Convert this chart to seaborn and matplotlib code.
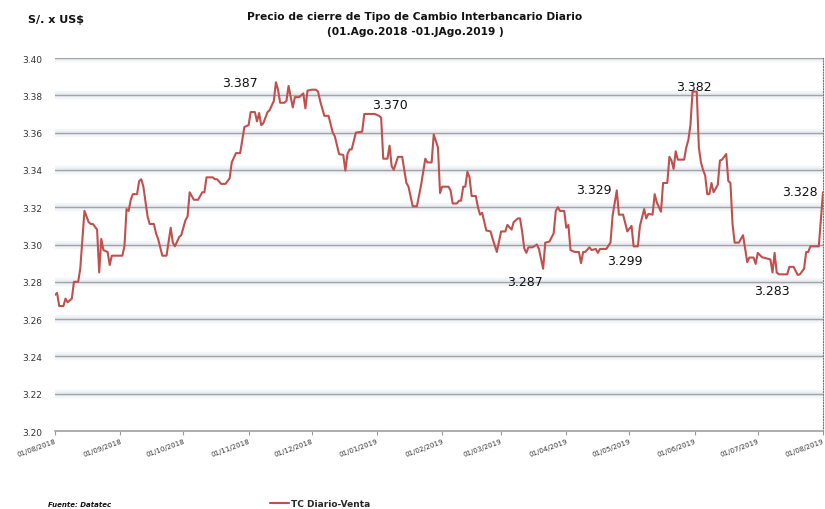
import numpy as np
import pandas as pd
import matplotlib
matplotlib.use("Agg")
import matplotlib.pyplot as plt
import matplotlib.dates as mdates
import seaborn as sns

# ---- data ----
start_date = "2018-08-01"
day_offsets = [0, 1, 2, 4, 5, 6, 7, 8, 9, 11, 12, 14, 16, 17, 18, 20, 21, 22, 23, 25,
               26, 27, 32, 33, 34, 35, 36, 37, 39, 40, 41, 42, 44, 45, 47, 48, 49, 51, 53, 55,
               56, 57, 59, 60, 62, 63, 64, 66, 68, 70, 71, 72, 75, 76, 77, 79, 81, 83, 84, 86,
               88, 90, 92, 93, 95, 96, 97, 98, 99, 101, 102, 104, 105, 106, 107, 109, 110, 111, 113, 114,
               116, 117, 118, 119, 120, 122, 124, 125, 126, 128, 130, 132, 133, 135, 137, 138, 139, 140, 141, 143,
               146, 147, 148, 152, 154, 155, 156, 158, 159, 160, 161, 163, 165, 167, 168, 170, 172, 174, 176, 177,
               179, 180, 182, 183, 184, 187, 188, 189, 191, 192, 193, 194, 195, 196, 197, 198, 200, 201, 202, 203,
               205, 207, 208, 210, 212, 214, 215, 217, 218, 220, 221, 222, 223, 224, 225, 227, 229, 230, 232, 233,
               235, 237, 238, 239, 240, 242, 243, 244, 245, 247, 249, 250, 251, 252, 254, 255, 257, 258, 259, 262,
               264, 265, 267, 268, 270, 272, 274, 275, 277, 278, 280, 281, 282, 284, 285, 286, 288, 289, 291, 292,
               293, 294, 295, 296, 299, 300, 301, 302, 303, 305, 306, 307, 308, 309, 310, 311, 312, 313, 315, 316,
               317, 319, 320, 321, 322, 323, 325, 327, 329, 330, 332, 333, 334, 336, 340, 341, 342, 343, 344, 348,
               349, 351, 353, 354, 356, 357, 358, 359, 363, 365]
tc_venta = [3.273, 3.274, 3.267, 3.267, 3.271, 3.269, 3.270, 3.271, 3.280, 3.280, 3.287, 3.318, 3.312, 3.311, 3.311, 3.308, 3.285, 3.303, 3.297, 3.296,
            3.289, 3.294, 3.294, 3.299, 3.319, 3.318, 3.324, 3.327, 3.327, 3.334, 3.335, 3.331, 3.315, 3.311, 3.311, 3.306, 3.303, 3.294, 3.294, 3.309,
            3.301, 3.299, 3.304, 3.305, 3.313, 3.315, 3.328, 3.324, 3.324, 3.328, 3.328, 3.336, 3.336, 3.335, 3.335, 3.3325, 3.3325, 3.3355, 3.344, 3.349,
            3.349, 3.363, 3.364, 3.371, 3.371, 3.366, 3.3705, 3.364, 3.365, 3.371, 3.372, 3.377, 3.387, 3.383, 3.376, 3.376, 3.377, 3.385, 3.3735, 3.379,
            3.379, 3.380, 3.381, 3.373, 3.3825, 3.383, 3.383, 3.382, 3.377, 3.369, 3.369, 3.360, 3.358, 3.3485, 3.348, 3.3396, 3.3485, 3.351, 3.351, 3.360,
            3.3605, 3.370, 3.370, 3.370, 3.369, 3.368, 3.346, 3.346, 3.353, 3.342, 3.340, 3.347, 3.347, 3.333, 3.331, 3.3205, 3.3205, 3.332, 3.346, 3.344,
            3.344, 3.359, 3.352, 3.3276, 3.331, 3.331, 3.329, 3.322, 3.322, 3.3235, 3.3235, 3.331, 3.331, 3.339, 3.336, 3.326, 3.326, 3.320, 3.316, 3.317,
            3.3075, 3.307, 3.303, 3.296, 3.307, 3.307, 3.3105, 3.308, 3.312, 3.314, 3.314, 3.307, 3.298, 3.2955, 3.2985, 3.2985, 3.300, 3.2976, 3.287, 3.301,
            3.3016, 3.306, 3.318, 3.320, 3.318, 3.318, 3.309, 3.3105, 3.297, 3.296, 3.296, 3.290, 3.296, 3.296, 3.2985, 3.297, 3.2976, 3.2955, 3.2976, 3.2976,
            3.301, 3.3155, 3.329, 3.316, 3.316, 3.307, 3.310, 3.299, 3.299, 3.310, 3.319, 3.314, 3.3164, 3.316, 3.327, 3.3226, 3.3176, 3.333, 3.333, 3.347,
            3.345, 3.3405, 3.350, 3.3455, 3.3455, 3.352, 3.356, 3.364, 3.382, 3.382, 3.352, 3.344, 3.340, 3.337, 3.327, 3.327, 3.333, 3.328, 3.332, 3.345,
            3.3455, 3.3485, 3.334, 3.333, 3.311, 3.301, 3.301, 3.305, 3.2905, 3.293, 3.293, 3.2896, 3.2955, 3.2932, 3.292, 3.285, 3.2955, 3.285, 3.284, 3.284,
            3.288, 3.288, 3.2837, 3.284, 3.287, 3.296, 3.296, 3.299, 3.299, 3.328]

label_days = [105, 152, 232, 267, 277, 303, 344, 365]
label_texts = ["3.387", "3.370", "3.287", "3.329", "3.299", "3.382", "3.283", "3.328"]
label_offsets_px = [(-36, 0), (15, 9), (-18, -13), (-23, 1), (-13, -14), (1, 5), (-7, -16), (-23, 1)]

y_ticks = [3.20, 3.22, 3.24, 3.26, 3.28, 3.30, 3.32, 3.34, 3.36, 3.38, 3.40]

# ---- build frame ----
t0 = pd.Timestamp(start_date)
df = pd.DataFrame({
    "fecha": t0 + pd.to_timedelta(day_offsets, unit="D"),
    "TC Diario-Venta": tc_venta,
})

sns.set_theme(style="white")
plt.rcParams["font.family"] = ["DejaVu Sans"]

fig = plt.figure(figsize=(8.25, 5.10), dpi=100)
ax = fig.add_axes([55 / 825, 1 - 432 / 510, (823 - 55) / 825, (432 - 59) / 510])

line_color = "#c0504d"

# gridlines with soft shadow band
for yv in y_ticks[1:]:
    ax.axhline(yv, color="#f3f5f9", lw=6, zorder=0)
    ax.axhline(yv, color="#e9edf3", lw=3, zorder=0)
    ax.axhline(yv, color="#a3a3a3", lw=1.0, zorder=1)

sns.lineplot(data=df, x="fecha", y="TC Diario-Venta", color=line_color, lw=1.5,
             ax=ax, zorder=3, label="TC Diario-Venta", legend=False)

ax.set_xlim(t0, t0 + pd.Timedelta(days=365))
ax.set_ylim(3.20, 3.40)
ax.set_yticks(y_ticks)
ax.set_yticklabels([f"{v:.2f}" for v in y_ticks], fontsize=6.5, color="#333333")
ax.set_xlabel("")
ax.set_ylabel("")

months = pd.date_range(t0, periods=13, freq="MS")
ax.set_xticks(months)
ax.set_xticklabels([m.strftime("%d/%m/%Y") for m in months], fontsize=5,
                   rotation=20, ha="right", rotation_mode="anchor", color="#333333")
ax.tick_params(axis="x", which="major", length=3, width=0.8, color="#999999",
               direction="out", bottom=True, pad=2)
ax.tick_params(axis="y", length=0, pad=9)

for s in ["top", "left"]:
    ax.spines[s].set_visible(False)
ax.spines["bottom"].set_color("#a0a0a0")
ax.spines["bottom"].set_linewidth(1.2)
ax.spines["right"].set_color("#777777")
ax.spines["right"].set_linestyle((0, (1, 1.5)))
ax.spines["right"].set_linewidth(0.8)

# data labels
vals = dict(zip(day_offsets, tc_venta))
for d, txt, (ox, oy) in zip(label_days, label_texts, label_offsets_px):
    ax.annotate(txt, xy=(t0 + pd.Timedelta(days=d), vals[d]), xytext=(ox, oy),
                textcoords="offset pixels", ha="center", va="center",
                fontsize=9, color="#111111", zorder=5)

# titles and notes
fig.text(415 / 825, 1 - 17 / 510, "Precio de cierre de Tipo de Cambio Interbancario Diario",
         ha="center", va="center", fontsize=7.7, fontweight="bold", color="#111111")
fig.text(415 / 825, 1 - 32 / 510, "(01.Ago.2018 -01.JAgo.2019 )",
         ha="center", va="center", fontsize=7.7, fontweight="bold", color="#111111")
fig.text(28 / 825, 1 - 20 / 510, "S/. x US$", ha="left", va="center",
         fontsize=8, fontweight="bold", color="#111111")
fig.text(48 / 825, 1 - 505 / 510, "Fuente: Datatec", ha="left", va="center",
         fontsize=5, fontweight="bold", style="italic", color="#111111")

leg = fig.legend(loc="center", bbox_to_anchor=(320 / 825, 1 - 505 / 510), frameon=False,
                 prop={"size": 6.5, "weight": "bold"}, handlelength=2.2, handletextpad=0.2,
                 borderaxespad=0, borderpad=0)

fig.savefig("out.png", dpi=100)
